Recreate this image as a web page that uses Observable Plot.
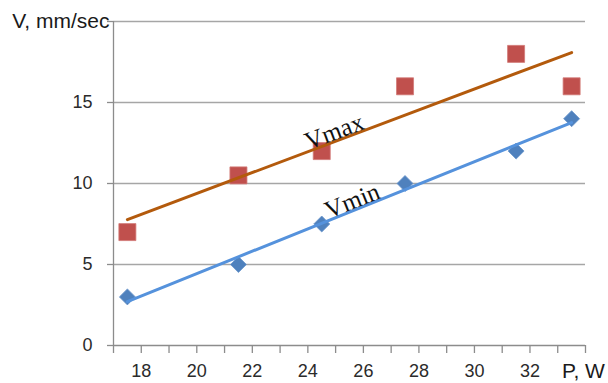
<!DOCTYPE html>
<html>
<head>
<meta charset="utf-8">
<script src="https://cdn.jsdelivr.net/npm/d3@7"></script>
<script src="https://cdn.jsdelivr.net/npm/@observablehq/plot@0.6"></script>
<style>
  html, body { margin: 0; padding: 0; background: #fff; }
  #chart { width: 608px; height: 383px; }
</style>
</head>
<body>
<div id="chart"></div>
<script>
// Laser power, W
const power = [17.5, 21.5, 24.5, 27.5, 31.5, 33.5];
// Maximum and minimum speed, mm/sec
const vMax = [7, 10.5, 12, 16, 18, 16];
const vMin = [3, 5, 7.5, 10, 12, 14];
const seriesNames = ["Vmax", "Vmin"];
const xTickLabels = [18, 20, 22, 24, 26, 28, 30, 32];
const yTickLabels = [0, 5, 10, 15];
const yGrid = [5, 10, 15, 20];
const xTitle = "P, W";
const yTitle = "V, mm/sec";

const maxRows = power.map((p, i) => ({p, v: vMax[i]}));
const minRows = power.map((p, i) => ({p, v: vMin[i]}));

// least-squares fit, used to seat each series name on its trend line
function fit(rows) {
  const mx = d3.mean(rows, d => d.p), my = d3.mean(rows, d => d.v);
  const sxy = d3.sum(rows, d => (d.p - mx) * (d.v - my));
  const sxx = d3.sum(rows, d => (d.p - mx) ** 2);
  const b = sxy / sxx;
  return x => my + b * (x - mx);
}
const fMax = fit(maxRows), fMin = fit(minRows);
const nameRows = [
  {name: seriesNames[0], p: 24.95, v: fMax(24.95), angle: -20.6},
  {name: seriesNames[1], p: 25.6, v: fMin(25.6), angle: -21.9}
];

const gridColor = "#a6a6a6";
const axisColor = "#8c8c8c";
const redColor = "#c0504d";
const blueColor = "#4f81bd";

const chart = Plot.plot({
  width: 608,
  height: 383,
  marginLeft: 113,
  marginRight: 23,
  marginTop: 21,
  marginBottom: 38,
  style: {fontFamily: "'Liberation Sans', Arial, sans-serif", fontSize: "18px", color: "#2b2b2b", background: "#fff"},
  x: {domain: [17, 34]},
  y: {domain: [0, 20]},
  marks: [
    Plot.ruleY(yGrid, {stroke: gridColor, strokeWidth: 1.3}),
    Plot.ruleY([0], {stroke: axisColor, strokeWidth: 1.3}),
    Plot.ruleX([17], {y1: 0, y2: 20, stroke: axisColor, strokeWidth: 1.3}),
    Plot.axisX({
      ticks: d3.range(17, 35),
      tickSize: 8,
      tickPadding: 11,
      stroke: axisColor,
      strokeWidth: 1.3,
      tickFormat: d => xTickLabels.includes(d) ? String(d) : "",
      label: null
    }),
    Plot.axisY({
      ticks: [0, 5, 10, 15, 20],
      tickSize: 6,
      tickPadding: 15,
      stroke: axisColor,
      strokeWidth: 1.3,
      tickFormat: d => yTickLabels.includes(d) ? String(d) : "",
      label: null
    }),
    Plot.dot(maxRows, {x: "p", y: "v", symbol: "square", r: 9.6, fill: redColor, stroke: "#d27a77", strokeWidth: 0.8}),
    Plot.dot(minRows, {x: "p", y: "v", symbol: "diamond2", r: 7.2, fill: blueColor, stroke: "#6a96cc", strokeWidth: 0.8}),
    Plot.linearRegressionY(maxRows, {x: "p", y: "v", stroke: "#b35a0c", strokeWidth: 3, ci: 0}),
    Plot.linearRegressionY(minRows, {x: "p", y: "v", stroke: "#5592dc", strokeWidth: 3, ci: 0}),
    Plot.text(nameRows, {
      x: "p", y: "v", text: "name", rotate: "angle", dy: -10,
      fontFamily: "'Liberation Serif', 'Times New Roman', serif",
      fontSize: 25, fill: "#111"
    }),
    Plot.text([yTitle], {x: 17, y: 20, dx: -4, textAnchor: "end", fontSize: 21, fill: "#1a1a1a"}),
    Plot.text([xTitle], {x: 34, y: 0, dx: -2, dy: 26, textAnchor: "middle", fontSize: 21, fill: "#1a1a1a"})
  ]
});
document.getElementById("chart").appendChild(chart);
</script>
</body>
</html>
